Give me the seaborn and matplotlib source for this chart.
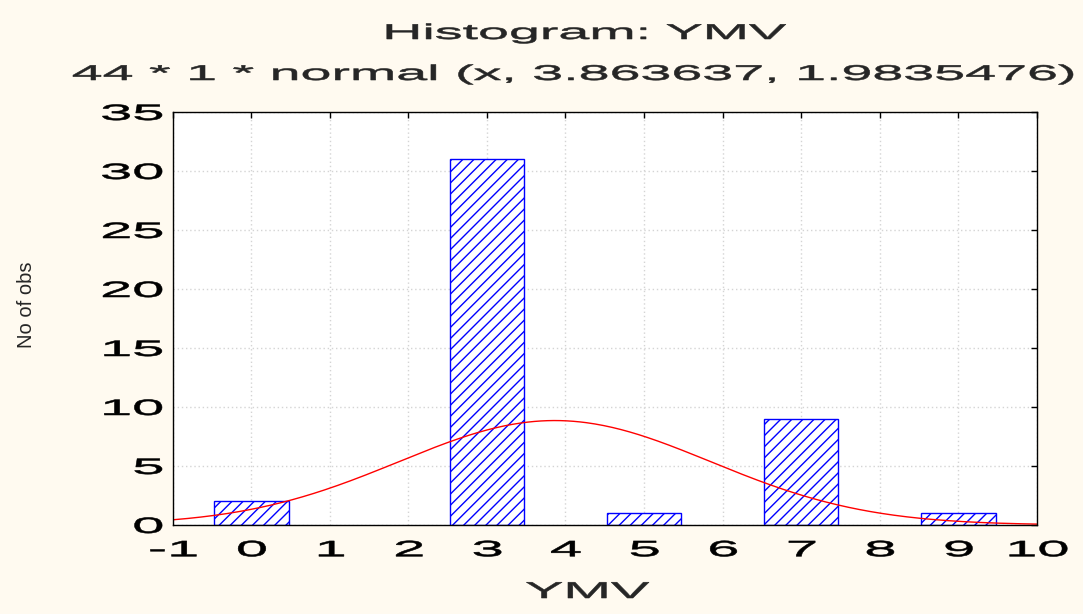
import numpy as np
import matplotlib
matplotlib.use("Agg")
import matplotlib.pyplot as plt
import seaborn as sns
from matplotlib.patheffects import AbstractPathEffect
from matplotlib.transforms import Affine2D

# YMV observed values and their frequencies
ymv_values = [0, 3, 5, 7, 9]
ymv_counts = [2, 31, 1, 9, 1]

# fitted normal curve: N * bin width * normal(x, mean, sd)
n_obs = 44
bin_width = 1
fit_mean = 3.863637
fit_sd = 1.9835476

x_ticks = list(range(-1, 11))
y_ticks = list(range(0, 36, 5))

title = "Histogram: YMV"
subtitle = "44 * 1 * normal (x, 3.863637, 1.9835476)"
x_label = "YMV"
y_label = "No of obs"


class WideText(AbstractPathEffect):
    """Render text glyphs horizontally widened around an anchor point,
    with a thin outline stroke for a heavier look."""

    def __init__(self, sx, anchor=0.5, stroke=0.4):
        super().__init__()
        self.sx = sx
        self.anchor = anchor
        self.stroke = stroke

    def draw_path(self, renderer, gc, tpath, affine, rgbFace=None):
        verts = tpath.vertices
        if len(verts):
            x0, x1 = verts[:, 0].min(), verts[:, 0].max()
            cx = x0 + (x1 - x0) * self.anchor
        else:
            cx = 0.0
        widen = Affine2D().translate(-cx, 0).scale(self.sx, 1).translate(cx, 0)
        gc0 = renderer.new_gc()
        gc0.copy_properties(gc)
        if self.stroke and rgbFace is not None:
            gc0.set_linewidth(self.stroke)
            gc0.set_foreground(rgbFace)
        renderer.draw_path(gc0, tpath, widen + affine, rgbFace)
        gc0.restore()


sns.set_style("white")
plt.rcParams["font.family"] = ["Liberation Sans", "DejaVu Sans"]
plt.rcParams["hatch.linewidth"] = 1.0
plt.rcParams["axes.unicode_minus"] = False

bg = "#FFFAF0"
fig = plt.figure(figsize=(10.83, 6.14), dpi=100, facecolor=bg)
ax = fig.add_axes([0.1595, 0.145, 0.7978, 0.6726])
ax.set_facecolor("white")
ax.set_axisbelow(True)

# histogram bars (one unit-wide bin per integer value)
sns.histplot(x=ymv_values, weights=ymv_counts, discrete=True, shrink=0.95,
             ax=ax, color="white", alpha=1)
for p in ax.patches:
    p.set_facecolor("white")
    p.set_edgecolor("#0000FF")
    p.set_hatch("///")
    p.set_linewidth(1.0)
    if p.get_height() == 0:
        p.set_visible(False)

# expected frequencies from the fitted normal distribution
xs = np.linspace(-1, 10, 400)
ys = n_obs * bin_width * np.exp(-0.5 * ((xs - fit_mean) / fit_sd) ** 2) / (fit_sd * np.sqrt(2 * np.pi))
sns.lineplot(x=xs, y=ys, color="#FF0000", linewidth=1.0, ax=ax, sort=False)

ax.set_xlim(-1, 10)
ax.set_ylim(0, 35)
ax.set_xticks(x_ticks)
ax.set_yticks(y_ticks)
ax.set_xlabel("")
ax.set_ylabel("")
ax.grid(True, linestyle=(0, (1, 2)), color="#d4d4d4", linewidth=1.0)

for s in ax.spines.values():
    s.set_visible(True)
    s.set_color("black")
    s.set_linewidth(1.0)

ax.tick_params(direction="in", length=4, width=1, top=True, right=True,
               colors="black", labelsize=16)
ax.tick_params(axis="x", pad=11)
ax.tick_params(axis="y", pad=7)

for lab in ax.get_xticklabels():
    lab.set_path_effects([WideText(2.6, 0.5)])
for lab in ax.get_yticklabels():
    lab.set_path_effects([WideText(2.6, 1.0)])

fig.text(584 / 1083, 1 - 39 / 614, title, ha="center", va="baseline",
         fontsize=15.4, path_effects=[WideText(2.6, 0.5)])
fig.text(573 / 1083, 1 - 80 / 614, subtitle, ha="center", va="baseline",
         fontsize=15.4, path_effects=[WideText(2.6, 0.5)])
fig.text(587 / 1083, 1 - 598 / 614, x_label, ha="center", va="baseline",
         fontsize=16.5, path_effects=[WideText(2.5, 0.5)])
fig.text(27 / 1083, 1 - 305 / 614, y_label, ha="center", va="center",
         rotation=90, fontsize=14.5)

fig.savefig("out.png", dpi=100, facecolor=bg)
